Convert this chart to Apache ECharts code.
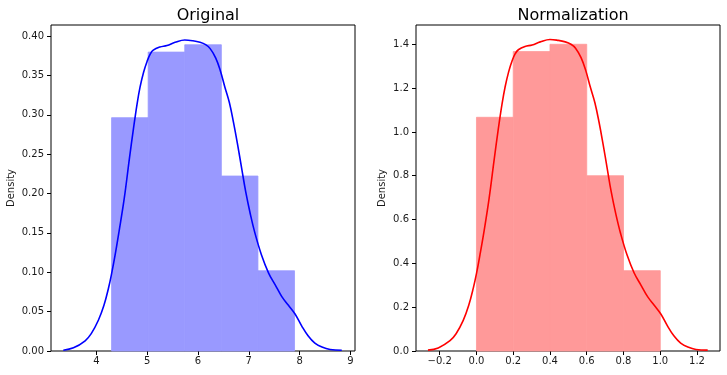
<!DOCTYPE html>
<html>
<head>
<meta charset="utf-8">
<script src="https://cdn.jsdelivr.net/npm/echarts@6/dist/echarts.min.js"></script>
<style>html,body{margin:0;padding:0;background:#fff}#c{width:727px;height:375px}</style>
</head>
<body>
<div id="c"></div>
<script>
// ---- data ----
const binEdgesOrig = [4.3, 5.02, 5.74, 6.46, 7.18, 7.9];
const densOrig = [0.2963, 0.3796, 0.3889, 0.2222, 0.1019];
const binEdgesNorm = [0.0, 0.2, 0.4, 0.6, 0.8, 1.0];
const densNorm = [1.0667, 1.3667, 1.4, 0.8, 0.3667];

const kdeOrig = [
  [3.35,0.001],[3.55,0.004],[3.78,0.013],[3.90,0.022],[4.04,0.039],[4.15,0.058],
  [4.24,0.080],[4.30,0.098],[4.37,0.122],[4.45,0.153],[4.55,0.194],[4.65,0.244],
  [4.73,0.282],[4.80,0.313],[4.86,0.335],[4.93,0.354],[5.00,0.368],[5.06,0.377],
  [5.12,0.382],[5.25,0.386],[5.39,0.388],[5.55,0.392],[5.74,0.395],[5.90,0.394],
  [6.04,0.392],[6.15,0.389],[6.24,0.384],[6.35,0.372],[6.44,0.356],[6.53,0.335],
  [6.62,0.315],[6.70,0.290],[6.78,0.262],[6.86,0.232],[6.94,0.202],[7.03,0.174],
  [7.12,0.150],[7.25,0.122],[7.39,0.099],[7.52,0.084],[7.65,0.069],[7.78,0.058],
  [7.91,0.047],[8.04,0.032],[8.17,0.019],[8.30,0.010],[8.44,0.005],[8.60,0.002],
  [8.83,0.001]
];
const kdeNorm = [
  [-0.264,0.004],[-0.208,0.014],[-0.144,0.047],[-0.111,0.079],[-0.072,0.140],[-0.042,0.209],
  [-0.017,0.288],[0.000,0.353],[0.019,0.439],[0.042,0.551],[0.069,0.698],[0.097,0.878],
  [0.119,1.015],[0.139,1.127],[0.156,1.206],[0.175,1.274],[0.194,1.325],[0.211,1.357],
  [0.228,1.375],[0.264,1.390],[0.303,1.397],[0.347,1.411],[0.400,1.422],[0.444,1.418],
  [0.483,1.411],[0.514,1.400],[0.539,1.382],[0.569,1.339],[0.594,1.282],[0.619,1.206],
  [0.644,1.134],[0.667,1.044],[0.689,0.943],[0.711,0.835],[0.733,0.727],[0.758,0.626],
  [0.783,0.540],[0.819,0.439],[0.858,0.356],[0.894,0.302],[0.931,0.248],[0.967,0.209],
  [1.003,0.169],[1.039,0.115],[1.075,0.068],[1.111,0.036],[1.150,0.018],[1.194,0.007],
  [1.258,0.004]
];

const xTicksOrig = [4, 5, 6, 7, 8, 9];
const yTicksOrig = [0, 0.05, 0.10, 0.15, 0.20, 0.25, 0.30, 0.35, 0.40];
const xTicksNorm = [-0.2, 0.0, 0.2, 0.4, 0.6, 0.8, 1.0, 1.2];
const yTicksNorm = [0, 0.2, 0.4, 0.6, 0.8, 1.0, 1.2, 1.4];

const titles = ['Original', 'Normalization'];
const yLabel = 'Density';

// ---- chart ----
const FONT = 'DejaVu Sans';
const TXT = '#1a1a1a';
const chart = echarts.init(document.getElementById('c'), null, {renderer: 'canvas'});

function fmt(dec) {
  return v => (v < 0 ? '\u2212' : '') + Math.abs(v).toFixed(dec);
}
function xAxis(idx, min, max, ticks, dec) {
  return {
    type: 'value', gridIndex: idx, min: min, max: max,
    axisLine: {show: false, onZero: false},
    splitLine: {show: false},
    axisTick: {show: true, inside: false, length: 4, customValues: ticks, lineStyle: {color: '#000', width: 1}},
    axisLabel: {customValues: ticks, formatter: fmt(dec), color: TXT, fontSize: 10, fontFamily: FONT, margin: 5}
  };
}
function yAxis(idx, min, max, ticks, dec, gap) {
  return {
    type: 'value', gridIndex: idx, min: min, max: max,
    name: yLabel, nameLocation: 'middle', nameGap: gap,
    nameTextStyle: {color: TXT, fontSize: 10, fontFamily: FONT},
    axisLine: {show: false, onZero: false},
    splitLine: {show: false},
    axisTick: {show: true, inside: false, length: 4, customValues: ticks, lineStyle: {color: '#000', width: 1}},
    axisLabel: {customValues: ticks, formatter: fmt(dec), color: TXT, fontSize: 10, fontFamily: FONT, margin: 7}
  };
}
function hist(edges, dens, color, idx) {
  const data = dens.map((d, i) => [edges[i], edges[i + 1], d]);
  return {
    type: 'custom', xAxisIndex: idx, yAxisIndex: idx, data: data,
    encode: {x: [0, 1], y: 2}, silent: true, z: 1,
    renderItem: (params, api) => {
      const p0 = api.coord([api.value(0), 0]);
      const p1 = api.coord([api.value(1), api.value(2)]);
      return {type: 'rect', shape: {x: p0[0], y: p1[1], width: p1[0] - p0[0], height: p0[1] - p1[1]},
              style: {fill: color, stroke: color, lineWidth: 0.8}};
    }
  };
}
function kde(pts, color, idx) {
  return {
    type: 'line', xAxisIndex: idx, yAxisIndex: idx, data: pts, smooth: 0.4,
    showSymbol: false, symbol: 'none', silent: true, z: 3,
    lineStyle: {color: color, width: 1.6}
  };
}

const gridTop = 25, gridH = 326;
chart.setOption({
  animation: false,
  backgroundColor: '#fff',
  title: [
    {text: titles[0], left: 203, textAlign: 'center', top: 3,
     textStyle: {fontSize: 16, fontWeight: 'normal', color: '#000', fontFamily: FONT}},
    {text: titles[1], left: 568, textAlign: 'center', top: 3,
     textStyle: {fontSize: 16, fontWeight: 'normal', color: '#000', fontFamily: FONT}}
  ],
  grid: [
    {left: 51, top: gridTop, width: 304, height: gridH, show: true, borderColor: '#000', borderWidth: 1, backgroundColor: 'transparent', containLabel: false},
    {left: 416, top: gridTop, width: 304, height: gridH, show: true, borderColor: '#000', borderWidth: 1, backgroundColor: 'transparent', containLabel: false}
  ],
  xAxis: [
    xAxis(0, 3.108, 9.09, xTicksOrig, 0),
    xAxis(1, -0.329, 1.325, xTicksNorm, 1)
  ],
  yAxis: [
    yAxis(0, 0, 0.414, yTicksOrig, 2, 35),
    yAxis(1, 0, 1.488, yTicksNorm, 1, 29)
  ],
  series: [
    hist(binEdgesOrig, densOrig, '#9999ff', 0),
    kde(kdeOrig, '#0000ff', 0),
    hist(binEdgesNorm, densNorm, '#ff9999', 1),
    kde(kdeNorm, '#ff0000', 1)
  ]
});
</script>
</body>
</html>
